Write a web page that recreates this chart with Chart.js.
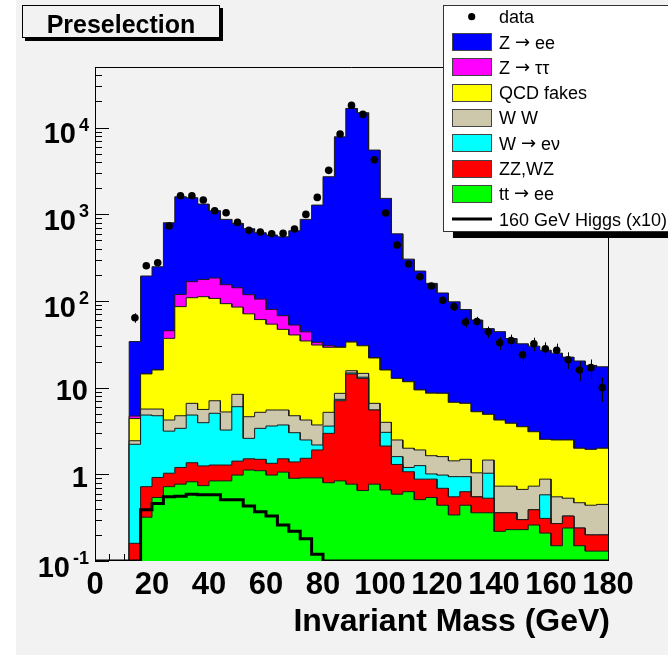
<!DOCTYPE html>
<html>
<head>
<meta charset="utf-8">
<script src="https://cdn.jsdelivr.net/npm/chart.js@4.4.1/dist/chart.umd.min.js"></script>
<style>
  html, body { margin: 0; padding: 0; background: #ffffff; }
  #wrap { width: 668px; height: 655px; }
  canvas { display: block; }
</style>
</head>
<body>
<div id="wrap"><canvas id="massPlot" width="668" height="655"></canvas></div>
<script>
// Binning of the invariant-mass histograms: 45 bins of 4 GeV
const X_MIN = 0, X_MAX = 180, BIN_WIDTH = 4, N_BINS = 45;
const Y_MIN = 0.1, Y_MAX = 5e4;

// Observed events per bin
const dataCounts = [0, 0, 0,
  64, 255, 276, 731, 1637, 1637, 1459, 1097, 1040, 806,
  652, 623, 596, 602, 675, 997, 1566, 3210, 8410, 18030,
  14200, 4256, 1033, 441, 267, 190, 149, 102, 86, 57,
  58, 44, 33, 35, 24, 32, 28, 27, 21, 16,
  17, 10];

// Expected events per bin for each background process
const ttToEE = [0, 0, 0,
  0, 0.32, 0.54, 0.72, 0.77, 0.82, 0.74, 0.84, 0.84, 0.98,
  1.12, 1.10, 0.98, 1.06, 0.90, 0.91, 0.91, 0.80, 0.84, 0.77,
  0.65, 0.77, 0.66, 0.59, 0.63, 0.51, 0.54, 0.44, 0.34, 0.44,
  0.36, 0.36, 0.22, 0.23, 0.23, 0.26, 0.21, 0.15, 0.24, 0.15,
  0.13, 0.13];
const zzWZ = [0, 0, 0,
  0.16, 0.40, 0.38, 0.31, 0.43, 0.54, 0.51, 0.44, 0.44, 0.44,
  0.39, 0.39, 0.36, 0.45, 0.49, 0.62, 1.00, 2.17, 6.22, 13.6,
  12.15, 4.75, 1.46, 0.71, 0.44, 0.37, 0.34, 0.25, 0.21, 0.19,
  0.19, 0.17, 0.14, 0.13, 0.07, 0.13, 0.10, 0.12, 0.09, 0.09,
  0.07, 0.07];
const wToENu = [0, 0, 0,
  2.06, 4.11, 3.82, 2.12, 2.19, 3.47, 2.69, 3.78, 1.96, 4.61,
  1.09, 1.90, 2.27, 2.20, 1.63, 0.96, 0.27, 0.63, 0.27, 0.40,
  0.40, 0, 0.93, 0.30, 0.13, 0.38, 0.13, 0.29, 0.39, 0.31,
  0, 0.50, 0, 0, 0, 0, 0.27, 0, 0, 0,
  0, 0];
const wwPair = [0, 0, 0,
  0.22, 0.83, 0.92, 1.08, 1.35, 1.76, 1.66, 2.00, 2.00, 2.34,
  2.02, 1.80, 1.91, 1.81, 1.72, 1.74, 1.53, 1.59, 1.26, 0.90,
  1.40, 1.07, 0.93, 0.89, 0.80, 0.65, 0.63, 0.62, 0.49, 0.55,
  0.49, 0.43, 0.37, 0.37, 0.37, 0.34, 0.30, 0.28, 0.20, 0.23,
  0.24, 0.25];
const qcdFakes = [0, 0, 0,
  1.96, 8.74, 10.34, 32.8, 81.3, 102.4, 106.4, 99.9, 87.8, 76.6,
  66.4, 55.8, 48.5, 41.5, 35.8, 30.3, 27.3, 24.0, 20.6, 17.9,
  15.8, 15.4, 12.0, 10.3, 9.7, 7.5, 7.0, 7.0, 5.34, 5.1,
  4.23, 3.46, 3.5, 3.15, 2.87, 2.37, 1.65, 1.94, 1.96, 1.53,
  1.5, 1.55];
const zToTauTau = [0, 0, 0,
  0.3, 0, 0, 8.3, 33, 58, 65, 77, 61, 57,
  47, 44, 26, 20.6, 12.2, 9.5, 2.3, 1.2, 0.3, 0.2,
  0.2, 0.2, 0, 0, 0, 0, 0, 0, 0, 0,
  0, 0, 0, 0, 0, 0, 0, 0, 0, 0,
  0, 0];
const zToEE = [0, 0, 0,
  29.3, 179.6, 232, 753, 1471, 1383, 1135, 913, 719, 643,
  563, 507, 496, 482, 592, 829, 1243, 2680, 7800, 16600,
  14790, 5478, 1509, 582, 292, 212, 151, 115, 91, 73,
  55, 43, 40, 33, 28.5, 27, 24.5, 22.5, 20, 18.3,
  16.1, 15.4];

// 160 GeV Higgs signal, scaled by 10
const higgs160x10 = [0, 0, 0,
  0, 0.39, 0.46, 0.55, 0.56, 0.59, 0.58, 0.58, 0.51, 0.51,
  0.43, 0.37, 0.33, 0.26, 0.22, 0.18, 0.12, 0, 0, 0,
  0, 0, 0, 0, 0, 0, 0, 0, 0, 0,
  0, 0, 0, 0, 0, 0, 0, 0, 0, 0,
  0, 0];

// Axis tick labels
const xTickValues = [0, 20, 40, 60, 80, 100, 120, 140, 160, 180];
const yTickValues = [0.1, 1, 10, 100, 1000, 10000];

const FONT = '"Liberation Sans", Arial, Helvetica, sans-serif';
const ARROW_FONT = '"DejaVu Sans", sans-serif';
const binLow = Array.from({ length: N_BINS }, (_, k) => X_MIN + k * BIN_WIDTH);

// Histogram outline: two points per bin; empty bins run along the frame floor
function stepPoints(values) {
  const pts = [];
  values.forEach((v, k) => {
    const y = v > Y_MIN ? v : Y_MIN;
    pts.push({ x: binLow[k], y: y }, { x: binLow[k] + BIN_WIDTH, y: y });
  });
  return pts;
}

// Stack order, bottom to top
const stackSpec = [
  { label: 'tt \u2192 ee', values: ttToEE, color: '#00ff00' },
  { label: 'ZZ,WZ', values: zzWZ, color: '#ff0000' },
  { label: 'W \u2192 e\u03bd', values: wToENu, color: '#00ffff' },
  { label: 'W W', values: wwPair, color: '#cdc7ac' },
  { label: 'QCD fakes', values: qcdFakes, color: '#ffff00' },
  { label: 'Z \u2192 \u03c4\u03c4', values: zToTauTau, color: '#ff00ff' },
  { label: 'Z \u2192 ee', values: zToEE, color: '#0000ff' }
];

let running = new Array(N_BINS).fill(0);
const stackDatasets = stackSpec.map(s => {
  running = running.map((v, k) => v + s.values[k]);
  return {
    type: 'line',
    label: s.label,
    data: stepPoints(running),
    backgroundColor: s.color,
    borderColor: '#1a1a1a',
    borderWidth: 1,
    fill: { value: Y_MIN },
    pointRadius: 0,
    pointHitRadius: 0,
    tension: 0,
    order: 0
  };
});

const higgsDataset = {
  type: 'line',
  label: '160 GeV Higgs (x10)',
  data: stepPoints(higgs160x10),
  borderColor: '#000000',
  borderWidth: 3,
  borderJoinStyle: 'miter',
  fill: false,
  pointRadius: 0,
  pointHitRadius: 0,
  tension: 0,
  order: -1
};

const dataDataset = {
  type: 'scatter',
  label: 'data',
  data: dataCounts.map((n, k) => ({ x: binLow[k] + BIN_WIDTH / 2, y: n })).filter(p => p.y > 0),
  pointRadius: 3.8,
  pointBackgroundColor: '#000000',
  pointBorderColor: '#000000',
  pointBorderWidth: 0,
  showLine: false,
  order: -2
};

// Canvas background: white margin strip, light grey pad
const padBackground = {
  id: 'padBackground',
  beforeDraw(chart) {
    const { ctx, width, height } = chart;
    ctx.save();
    ctx.fillStyle = '#ffffff';
    ctx.fillRect(0, 0, width, height);
    ctx.fillStyle = '#f2f2f2';
    ctx.fillRect(16, 0, width - 16, height);
    ctx.restore();
  }
};

// Axis lines and inward tick marks, drawn underneath the histograms
const axisTicks = {
  id: 'axisTicks',
  beforeDatasetsDraw(chart) {
    const { ctx, chartArea: a, scales: { x, y } } = chart;
    ctx.save();
    ctx.strokeStyle = '#000000';
    ctx.lineWidth = 1;
    ctx.beginPath();
    ctx.moveTo(95.5, a.top);
    ctx.lineTo(95.5, a.bottom);
    ctx.moveTo(a.left, a.bottom - 0.5);
    ctx.lineTo(a.right, a.bottom - 0.5);
    for (let d = -1; d <= 4; d++) {
      for (let m = 1; m <= 9; m++) {
        const v = m * Math.pow(10, d);
        if (v > Y_MAX) break;
        const py = Math.round(y.getPixelForValue(v)) + 0.5;
        ctx.moveTo(a.left, py);
        ctx.lineTo(a.left + (m === 1 ? 14 : 7), py);
      }
    }
    for (let v = X_MIN; v <= X_MAX; v += 5) {
      const px = Math.round(x.getPixelForValue(v)) + 0.5;
      ctx.moveTo(px, a.bottom);
      ctx.lineTo(px, a.bottom - (v % 20 === 0 ? 14 : 7));
    }
    ctx.stroke();
    ctx.restore();
  },
  afterDatasetsDraw(chart) {
    const { ctx, chartArea: a, scales: { x, y } } = chart;
    ctx.save();
    // frame top and right edges
    ctx.strokeStyle = '#000000';
    ctx.lineWidth = 1;
    ctx.beginPath();
    ctx.moveTo(a.left, a.top + 0.5);
    ctx.lineTo(a.right + 0.5, a.top + 0.5);
    ctx.lineTo(a.right + 0.5, a.bottom);
    ctx.stroke();
    // Poisson error bars on the data points
    ctx.beginPath();
    ctx.rect(a.left, a.top, a.right - a.left, a.bottom - a.top);
    ctx.clip();
    ctx.beginPath();
    dataCounts.forEach((n, k) => {
      if (n <= 0) return;
      const e = Math.sqrt(n);
      const px = Math.round(x.getPixelForValue(binLow[k] + BIN_WIDTH / 2)) + 0.5;
      const lo = n - e > 0 ? y.getPixelForValue(n - e) : a.bottom;
      ctx.moveTo(px, y.getPixelForValue(n + e));
      ctx.lineTo(px, lo);
    });
    ctx.stroke();
    ctx.restore();
  }
};

// Legend text; the arrow is set in a font with a full-width arrow glyph
function drawLegendText(ctx, text, x0, baseline) {
  const parts = text.split('\u2192');
  let xp = x0;
  parts.forEach((part, i) => {
    if (i > 0) {
      ctx.font = '18px ' + ARROW_FONT;
      ctx.fillText('\u2192', xp, baseline - 1);
      xp += ctx.measureText('\u2192').width;
    }
    ctx.font = '18px ' + FONT;
    ctx.fillText(part, xp, baseline);
    xp += ctx.measureText(part).width;
  });
}

// Tick labels, axis title, header box and legend
const annotations = {
  id: 'annotations',
  afterDraw(chart) {
    const { ctx, chartArea: a, scales: { x, y }, width } = chart;
    ctx.save();
    ctx.fillStyle = '#000000';
    ctx.textBaseline = 'alphabetic';

    // y labels: 10^n with raised exponent, plain 1 and 10
    yTickValues.forEach(v => {
      const py = y.getPixelForValue(v);
      const e = Math.round(Math.log10(v));
      if (e === 0 || e === 1) {
        ctx.font = 'bold 29px ' + FONT;
        ctx.textAlign = 'right';
        ctx.fillText(String(v), 88, py + 12.7);
      } else {
        const sup = String(e);
        ctx.font = 'bold 18px ' + FONT;
        const sw = ctx.measureText(sup).width;
        ctx.textAlign = 'left';
        ctx.fillText(sup, 89 - sw, py + 3);
        ctx.font = 'bold 29px ' + FONT;
        ctx.textAlign = 'right';
        ctx.fillText('10', 89 - sw - 3, py + 15.7);
      }
    });

    // x labels
    ctx.font = 'bold 31px ' + FONT;
    ctx.textAlign = 'center';
    xTickValues.forEach(v => {
      ctx.fillText(String(v), x.getPixelForValue(v), 594);
    });

    // x title, right-aligned at the axis end
    ctx.font = 'bold 32px ' + FONT;
    ctx.textAlign = 'right';
    ctx.fillText('Invariant Mass (GeV)', a.right + 2, 631);

    // header box with drop shadow
    ctx.fillStyle = '#000000';
    ctx.fillRect(25, 8, 198, 33);
    ctx.fillStyle = '#f2f2f2';
    ctx.fillRect(22, 5, 198, 33);
    ctx.strokeStyle = '#000000';
    ctx.lineWidth = 1;
    ctx.strokeRect(22.5, 5.5, 197, 32);
    ctx.fillStyle = '#000000';
    ctx.font = 'bold 25px ' + FONT;
    ctx.textAlign = 'center';
    ctx.fillText('Preselection', 121, 32.5);

    // legend box with drop shadow
    const LX = 443, LY = 5, LH = 227;
    ctx.fillStyle = '#000000';
    ctx.fillRect(LX + 10, LY + LH, width - LX - 10, 6);
    ctx.fillStyle = '#ffffff';
    ctx.fillRect(LX, LY, width - LX + 5, LH);
    ctx.strokeStyle = '#333333';
    ctx.strokeRect(LX + 0.5, LY + 0.5, width, LH - 1);

    const entries = [
      { label: dataDataset.label, kind: 'marker' },
      ...stackSpec.slice().reverse().map(s => ({ label: s.label, kind: 'box', color: s.color })),
      { label: higgsDataset.label, kind: 'line' }
    ];
    ctx.textAlign = 'left';
    entries.forEach((en, i) => {
      const cy = 16.7 + 25.3 * i;
      if (en.kind === 'marker') {
        ctx.fillStyle = '#000000';
        ctx.beginPath();
        ctx.arc(471.7, cy, 3.6, 0, Math.PI * 2);
        ctx.fill();
      } else if (en.kind === 'box') {
        ctx.fillStyle = en.color;
        ctx.fillRect(452, Math.round(cy - 9), 40, 18);
        ctx.strokeStyle = '#444444';
        ctx.strokeRect(452.5, Math.round(cy - 9) + 0.5, 39, 17);
      } else {
        ctx.strokeStyle = '#000000';
        ctx.lineWidth = 3;
        ctx.beginPath();
        ctx.moveTo(452, cy);
        ctx.lineTo(492, cy);
        ctx.stroke();
        ctx.lineWidth = 1;
      }
      ctx.fillStyle = '#000000';
      drawLegendText(ctx, en.label, 499, cy + 6.5);
    });
    ctx.restore();
  }
};

new Chart(document.getElementById('massPlot'), {
  type: 'line',
  data: { datasets: [...stackDatasets, higgsDataset, dataDataset] },
  options: {
    responsive: false,
    animation: false,
    devicePixelRatio: 1,
    layout: { padding: { left: 95, top: 67, right: 60, bottom: 94 } },
    plugins: {
      legend: { display: false },
      tooltip: { enabled: false },
      title: { display: false }
    },
    scales: {
      x: { type: 'linear', min: X_MIN, max: X_MAX, bounds: 'data', display: false },
      y: { type: 'logarithmic', min: Y_MIN, max: Y_MAX, bounds: 'data', display: false }
    }
  },
  plugins: [padBackground, axisTicks, annotations]
});
</script>
</body>
</html>
